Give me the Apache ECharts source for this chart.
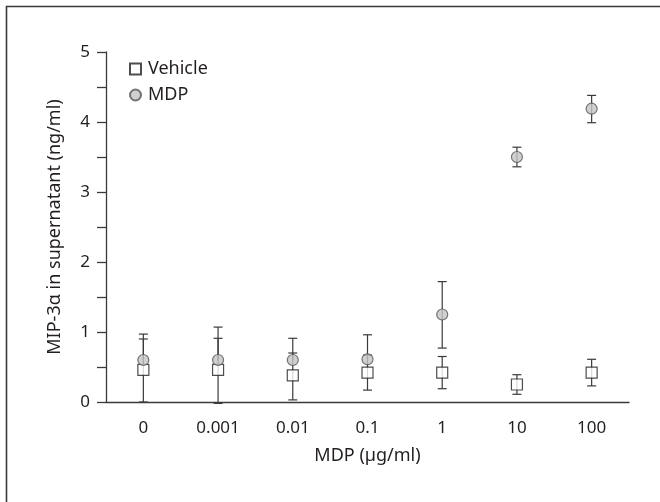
<!DOCTYPE html>
<html>
<head>
<meta charset="utf-8">
<script src="https://cdn.jsdelivr.net/npm/echarts@6/dist/echarts.min.js"></script>
<style>
  html, body { margin: 0; padding: 0; background: #fff; }
  #chart { width: 660px; height: 502px; }
</style>
</head>
<body>
<div id="chart"></div>
<script>
const doseLabels = ['0', '0.001', '0.01', '0.1', '1', '10', '100']
const vehicleMean = [0.46, 0.46, 0.38, 0.42, 0.42, 0.25, 0.42]
const vehicleLow = [0.00, -0.02, 0.03, 0.17, 0.19, 0.11, 0.23]
const vehicleHigh = [0.90, 0.91, 0.70, 0.67, 0.65, 0.39, 0.61]
const mdpMean = [0.60, 0.60, 0.60, 0.61, 1.25, 3.50, 4.19]
// lower whiskers of the first four MDP points are not drawn in the figure
const mdpLow = [0.60, 0.60, 0.60, 0.61, 0.77, 3.36, 3.99]
const mdpHigh = [0.97, 1.07, 0.91, 0.96, 1.72, 3.64, 4.38]
const yTicks = [0, 1, 2, 3, 4, 5]

const fontFamily = '"Noto Sans", sans-serif'
const inkColor = '#231f20'
const axisColor = '#3a3a3a'

const chart = echarts.init(document.getElementById('chart'))

// [index, mean, low, high] for the custom error bar series
const toBars = (mean, low, high) => mean.map((m, i) => [i, m, low[i], high[i]])

const renderErrorBar = function (params, api) {
  const i = api.value(0)
  const mid = api.coord([i, api.value(1)])
  const low = api.coord([i, api.value(2)])
  const high = api.coord([i, api.value(3)])
  const half = 4.5
  const style = { stroke: axisColor, lineWidth: 1.2 }
  const children = []
  if (high[1] < mid[1]) {
    children.push({ type: 'line', shape: { x1: mid[0], y1: mid[1], x2: high[0], y2: high[1] }, style: style })
    children.push({ type: 'line', shape: { x1: high[0] - half, y1: high[1], x2: high[0] + half, y2: high[1] }, style: style })
  }
  if (low[1] > mid[1]) {
    children.push({ type: 'line', shape: { x1: mid[0], y1: mid[1], x2: low[0], y2: low[1] }, style: style })
    children.push({ type: 'line', shape: { x1: low[0] - half, y1: low[1], x2: low[0] + half, y2: low[1] }, style: style })
  }
  return { type: 'group', children: children }
}

const option = {
  animation: false,
  backgroundColor: '#fff',
  textStyle: { fontFamily: fontFamily },
  graphic: [
    {
      type: 'polyline',
      shape: { points: [[6.5, 502], [6.5, 6.5], [660, 6.5]] },
      style: { stroke: axisColor, lineWidth: 1.6, fill: null }
    }
  ],
  grid: {
    left: 106,
    right: 31,
    top: 52,
    bottom: 100
  },
  legend: {
    left: 129,
    top: 60,
    padding: 0,
    orient: 'vertical',
    itemWidth: 11,
    itemHeight: 11,
    itemGap: 8,
    textStyle: { fontSize: 18, color: inkColor, fontFamily: fontFamily, padding: [0, 0, 0, 2] },
    data: [
      { name: 'Vehicle', icon: 'rect' },
      { name: 'MDP', icon: 'circle' }
    ]
  },
  xAxis: {
    type: 'category',
    data: doseLabels,
    offset: 5,
    name: 'MDP (µg/ml)',
    nameLocation: 'middle',
    nameGap: 40,
    nameTextStyle: { fontSize: 18, color: inkColor, fontFamily: fontFamily },
    axisLine: { lineStyle: { color: axisColor, width: 1.3 } },
    axisTick: { length: 9, lineStyle: { color: axisColor, width: 1.3 } },
    axisLabel: { margin: 13, fontSize: 17, color: inkColor, fontFamily: fontFamily },
    splitLine: { show: false }
  },
  yAxis: {
    type: 'value',
    min: 0,
    max: 5,
    interval: 0.5,
    name: 'MIP-3α in supernatant (ng/ml)',
    nameLocation: 'middle',
    nameGap: 42,
    nameTextStyle: { fontSize: 18, color: inkColor, fontFamily: fontFamily },
    axisLine: { show: true, lineStyle: { color: axisColor, width: 1.3 } },
    axisTick: { show: true, length: 9, lineStyle: { color: axisColor, width: 1.3 } },
    axisLabel: {
      margin: 16,
      fontSize: 17,
      color: inkColor,
      fontFamily: fontFamily,
      formatter: function (v) {
        return yTicks.indexOf(v) >= 0 ? String(v) : ''
      }
    },
    splitLine: { show: false }
  },
  series: [
    {
      name: 'VehicleErr',
      type: 'custom',
      renderItem: renderErrorBar,
      data: toBars(vehicleMean, vehicleLow, vehicleHigh),
      z: 1
    },
    {
      name: 'MDPErr',
      type: 'custom',
      renderItem: renderErrorBar,
      data: toBars(mdpMean, mdpLow, mdpHigh),
      z: 1
    },
    {
      name: 'Vehicle',
      type: 'scatter',
      symbol: 'rect',
      symbolSize: 11,
      itemStyle: { color: '#fff', borderColor: inkColor, borderWidth: 1.2 },
      data: vehicleMean,
      z: 3
    },
    {
      name: 'MDP',
      type: 'scatter',
      symbol: 'circle',
      symbolSize: 11,
      itemStyle: { color: '#c4c4c4', borderColor: '#555', borderWidth: 1.2 },
      data: mdpMean,
      z: 4
    }
  ]
}

chart.setOption(option)
</script>
</body>
</html>
